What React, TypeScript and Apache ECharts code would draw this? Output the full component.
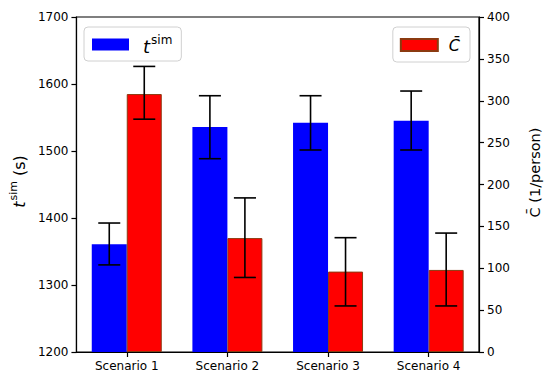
import React, { useEffect, useRef } from "react";
import * as echarts from "echarts";

const categories = ["Scenario 1", "Scenario 2", "Scenario 3", "Scenario 4"];
const tsimMean = [1361, 1536, 1542, 1545];
const tsimLow = [1330, 1488.5, 1501.5, 1501.5];
const tsimHigh = [1392.5, 1582.5, 1582.5, 1589.5];
const cMean = [308, 136, 96, 98];
const cLow = [278, 89, 55, 55];
const cHigh = [341, 184, 136.5, 142];

const FONT = "DejaVu Sans";
const BAR_W = 35;

function errorRender(offset: number) {
  return (params: any, api: any) => {
    const i = api.value(0);
    const lo = api.coord([i, api.value(1)]);
    const hi = api.coord([i, api.value(2)]);
    const x = lo[0] + offset;
    const cap = 11;
    const style = { stroke: "#000", lineWidth: 1.6 };
    return {
      type: "group",
      children: [
        { type: "line", shape: { x1: x, y1: lo[1], x2: x, y2: hi[1] }, style },
        { type: "line", shape: { x1: x - cap, y1: lo[1], x2: x + cap, y2: lo[1] }, style },
        { type: "line", shape: { x1: x - cap, y1: hi[1], x2: x + cap, y2: hi[1] }, style },
      ],
    };
  };
}

export default function App() {
  const ref = useRef<HTMLDivElement>(null);
  useEffect(() => {
    if (!ref.current) return;
    const chart = echarts.init(ref.current, null, { renderer: "svg" });
    const axisCommon = {
      axisLine: { show: true, lineStyle: { color: "#000", width: 1.2 } },
      axisTick: { show: true, length: 5, lineStyle: { color: "#000", width: 1.2 } },
      axisLabel: { color: "#000", fontSize: 12, fontFamily: FONT, formatter: (v: any) => String(v) },
      splitLine: { show: false },
    };
    chart.setOption({
      animation: false,
      backgroundColor: "#fff",
      textStyle: { fontFamily: FONT },
      grid: {
        left: 74,
        right: 70,
        top: 17,
        bottom: 31,
        show: true,
        borderColor: "#000",
        borderWidth: 1.2,
        backgroundColor: "transparent",
      },
      legend: [
        {
          data: ["tsim"],
          left: 84,
          top: 27,
          icon: "rect",
          itemWidth: 37,
          itemHeight: 12,
          padding: [7, 9, 6, 8],
          borderColor: "#d0d0d0",
          borderWidth: 1,
          borderRadius: 4,
          backgroundColor: "rgba(255,255,255,0.8)",
          formatter: () => "{t|t}{s|sim}",
          textStyle: {
            padding: [0, 0, 0, 9],
            rich: {
              t: { fontSize: 18, fontStyle: "italic", fontFamily: FONT, color: "#000", verticalAlign: "bottom" },
              s: { fontSize: 12, fontFamily: FONT, color: "#000", verticalAlign: "bottom", padding: [0, 0, 9, 1] },
            },
          },
        },
        {
          data: ["C̄"],
          right: 80,
          top: 27,
          icon: "rect",
          itemWidth: 37,
          itemHeight: 12,
          padding: [10, 10, 9, 7],
          borderColor: "#d0d0d0",
          borderWidth: 1,
          borderRadius: 4,
          backgroundColor: "rgba(255,255,255,0.8)",
          textStyle: {
            padding: [0, 0, 0, 6],
            fontSize: 16,
            fontStyle: "italic",
            fontFamily: FONT,
            color: "#000",
          },
        },
      ],
      xAxis: {
        type: "category",
        data: categories,
        ...axisCommon,
        axisTick: { ...axisCommon.axisTick, alignWithLabel: true },
        axisLabel: { color: "#000", fontSize: 12, fontFamily: FONT, margin: 8 },
      },
      yAxis: [
        {
          type: "value",
          min: 1200,
          max: 1700,
          interval: 100,
          position: "left",
          ...axisCommon,
          name: "{t|t}{s|sim}{n| (s)}",
          nameLocation: "middle",
          nameRotate: 90,
          nameGap: 46,
          nameTextStyle: {
            padding: [0, 0, 0, 6],
            rich: {
              t: { fontSize: 16, fontStyle: "italic", fontFamily: FONT, color: "#000", verticalAlign: "bottom" },
              s: { fontSize: 11, fontFamily: FONT, color: "#000", verticalAlign: "bottom", padding: [0, 0, 8, 1] },
              n: { fontSize: 16, fontFamily: FONT, color: "#000", verticalAlign: "bottom" },
            },
          },
        },
        {
          type: "value",
          min: 0,
          max: 400,
          interval: 50,
          position: "right",
          ...axisCommon,
          name: "C̄ (1/person)",
          nameLocation: "middle",
          nameRotate: 90,
          nameGap: 48,
          nameTextStyle: { fontSize: 14.5, fontFamily: FONT, color: "#000", padding: [0, 0, 0, 24] },
        },
      ],
      series: [
        {
          name: "tsim",
          type: "bar",
          yAxisIndex: 0,
          data: tsimMean,
          barWidth: BAR_W,
          barGap: "0%",
          itemStyle: { color: "#0000ff" },
        },
        {
          name: "C̄",
          type: "bar",
          yAxisIndex: 1,
          data: cMean,
          barWidth: BAR_W,
          barGap: "0%",
          itemStyle: { color: "#ff0000", borderColor: "#8b3a10", borderWidth: 1 },
        },
        {
          type: "custom",
          yAxisIndex: 0,
          renderItem: errorRender(-BAR_W / 2),
          encode: { x: 0, y: [1, 2] },
          data: categories.map((_, i) => [i, tsimLow[i], tsimHigh[i]]),
          z: 10,
        },
        {
          type: "custom",
          yAxisIndex: 1,
          renderItem: errorRender(BAR_W / 2),
          encode: { x: 0, y: [1, 2] },
          data: categories.map((_, i) => [i, cLow[i], cHigh[i]]),
          z: 10,
        },
      ],
    });
    return () => chart.dispose();
  }, []);
  return <div ref={ref} style={{ width: 550, height: 383, position: "absolute", left: 0, top: 0 }} />;
}
